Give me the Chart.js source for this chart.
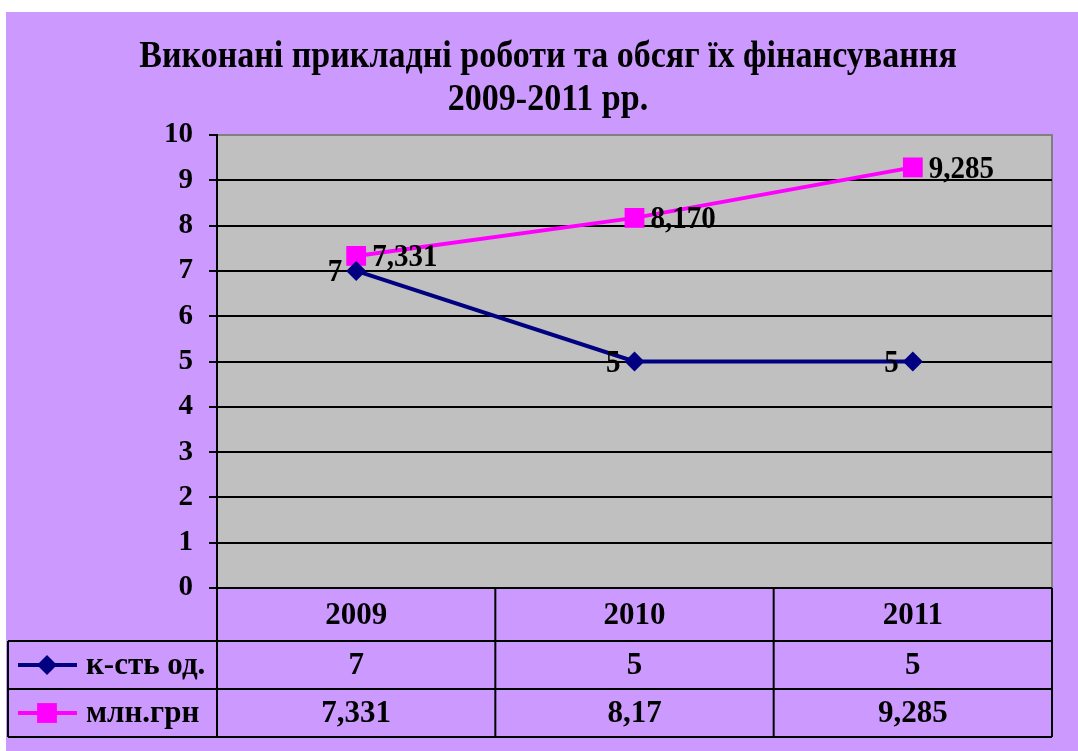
<!DOCTYPE html>
<html>
<head>
<meta charset="utf-8">
<script src="https://cdn.jsdelivr.net/npm/chart.js@4/dist/chart.umd.min.js"></script>
<style>
body { margin: 0; background: #fff; }
#wrap { position: absolute; left: 0; top: 0; width: 1078px; height: 751px; }
</style>
</head>
<body>
<div id="wrap"><canvas id="myChart"></canvas></div>
<script>
// data
var years = ['2009', '2010', '2011']
var kstValues = [7, 5, 5]
var mlnValues = [7.331, 8.170, 9.285]
var seriesNames = ['к-сть од.', 'млн.грн']
var titleLines = ['Виконані прикладні роботи та обсяг їх фінансування', '2009-2011 рр.']
var yMin = 0
var yMax = 10

var FONT = '"Liberation Serif", "Times New Roman", serif'
var PURPLE = '#CC99FF'
var NAVY = '#000080'
var MAGENTA = '#FF00FF'

function comma(v) { return String(v).replace('.', ',') }

// text a little taller than wide, like the original
function tallText(ctx, txt, x, y, k) {
    ctx.save()
    ctx.translate(x, y)
    ctx.scale(1, k)
    ctx.fillText(txt, 0, 0)
    ctx.restore()
}

// purple page + grey plot area
var backdrop = {
    id: 'backdrop',
    beforeDraw: function (chart) {
        var ctx = chart.ctx, a = chart.chartArea
        ctx.save()
        ctx.fillStyle = '#fff'
        ctx.fillRect(0, 0, chart.width, chart.height)
        ctx.fillStyle = PURPLE
        ctx.fillRect(6, 12, chart.width - 6, chart.height - 12)
        ctx.fillStyle = '#C0C0C0'
        ctx.fillRect(a.left, a.top, a.right - a.left, a.bottom - a.top)
        ctx.strokeStyle = '#808080'
        ctx.lineWidth = 2
        ctx.strokeRect(a.left, a.top, a.right - a.left, a.bottom - a.top)
        ctx.restore()
    }
}

// title, point labels and the data table underneath
var extras = {
    id: 'extras',
    afterDraw: function (chart) {
        var ctx = chart.ctx, a = chart.chartArea
        var xs = chart.scales.x
        ctx.save()
        ctx.fillStyle = '#000'
        ctx.textBaseline = 'middle'

        // title
        ctx.font = 'bold 34px ' + FONT
        ctx.textAlign = 'center'
        tallText(ctx, titleLines[0], 548, 57, 1.1)
        tallText(ctx, titleLines[1], 548, 100, 1.1)

        // point labels
        ctx.font = 'bold 29px ' + FONT
        chart.getDatasetMeta(0).data.forEach(function (p, i) {
            ctx.textAlign = 'right'
            tallText(ctx, comma(kstValues[i]), p.x - 14, p.y + 2, 1.1)
        })
        chart.getDatasetMeta(1).data.forEach(function (p, i) {
            ctx.textAlign = 'left'
            tallText(ctx, mlnValues[i].toFixed(3).replace('.', ','), p.x + 16, p.y + 2, 1.1)
        })

        // table
        var rowTop = a.bottom, r1 = 641, r2 = 689, r3 = 737, left = 8
        var bounds = [a.left]
        for (var i = 0; i < years.length; i++) {
            bounds.push(a.left + (i + 1) * (a.right - a.left) / years.length)
        }
        ctx.strokeStyle = '#000'
        ctx.lineWidth = 2
        ctx.beginPath()
        bounds.forEach(function (b) { ctx.moveTo(b, rowTop); ctx.lineTo(b, r3) })
        ctx.moveTo(a.left, rowTop); ctx.lineTo(a.right, rowTop)
        ;[r1, r2, r3].forEach(function (y) { ctx.moveTo(left, y); ctx.lineTo(a.right, y) })
        ctx.moveTo(left, r1); ctx.lineTo(left, r3)
        ctx.stroke()

        ctx.font = 'bold 31px ' + FONT
        ctx.textAlign = 'center'
        var yH = (rowTop + r1) / 2 + 1, yA = (r1 + r2) / 2 + 1, yB = (r2 + r3) / 2 + 1
        years.forEach(function (y, i) {
            var cx = xs.getPixelForValue(i)
            tallText(ctx, y, cx, yH, 1.05)
            tallText(ctx, comma(kstValues[i]), cx, yA, 1.05)
            tallText(ctx, comma(mlnValues[i]), cx, yB, 1.05)
        })

        // legend keys
        ctx.lineWidth = 4
        ctx.strokeStyle = NAVY
        ctx.beginPath(); ctx.moveTo(18, yA - 1); ctx.lineTo(77, yA - 1); ctx.stroke()
        ctx.fillStyle = NAVY
        Chart.helpers.drawPoint(ctx, { pointStyle: 'rectRot', radius: 10, borderWidth: 0 }, 47, yA - 1)
        ctx.strokeStyle = MAGENTA
        ctx.beginPath(); ctx.moveTo(18, yB - 1); ctx.lineTo(77, yB - 1); ctx.stroke()
        ctx.fillStyle = MAGENTA
        Chart.helpers.drawPoint(ctx, { pointStyle: 'rect', radius: 14, borderWidth: 0 }, 47, yB - 1)

        ctx.fillStyle = '#000'
        ctx.textAlign = 'left'
        tallText(ctx, seriesNames[0], 86, yA, 1.05)
        tallText(ctx, seriesNames[1], 86, yB, 1.05)
        ctx.restore()
    }
}

var ctx = document.getElementById('myChart').getContext('2d')
var chart = new Chart(ctx, {
    type: 'line',
    data: {
        labels: years,
        datasets: [{
            label: seriesNames[0],
            data: kstValues,
            borderColor: NAVY,
            backgroundColor: NAVY,
            borderWidth: 4,
            pointStyle: 'rectRot',
            pointRadius: 10,
            pointBorderWidth: 0,
            tension: 0
        }, {
            label: seriesNames[1],
            data: mlnValues,
            borderColor: MAGENTA,
            backgroundColor: MAGENTA,
            borderWidth: 4,
            pointStyle: 'rect',
            pointRadius: 14,
            pointBorderWidth: 0,
            tension: 0
        }]
    },
    options: {
        responsive: true,
        maintainAspectRatio: false,
        animation: false,
        events: [],
        layout: { padding: { top: 135, bottom: 163, right: 26, left: 0 } },
        plugins: { legend: { display: false }, title: { display: false }, tooltip: { enabled: false } },
        scales: {
            x: { display: false, offset: true },
            y: {
                min: yMin,
                max: yMax,
                afterFit: function (scale) { scale.width = 217 },
                ticks: {
                    stepSize: 1,
                    padding: 16,
                    color: '#000',
                    font: { family: FONT, size: 29, weight: 'bold' }
                },
                grid: {
                    color: function (c) { return c.tick && c.tick.value === yMax ? '#808080' : '#000' },
                    tickColor: '#000',
                    lineWidth: 2,
                    tickLength: 8
                },
                border: { display: true, color: '#000', width: 2 }
            }
        }
    },
    plugins: [backdrop, extras]
})
</script>
</body>
</html>
